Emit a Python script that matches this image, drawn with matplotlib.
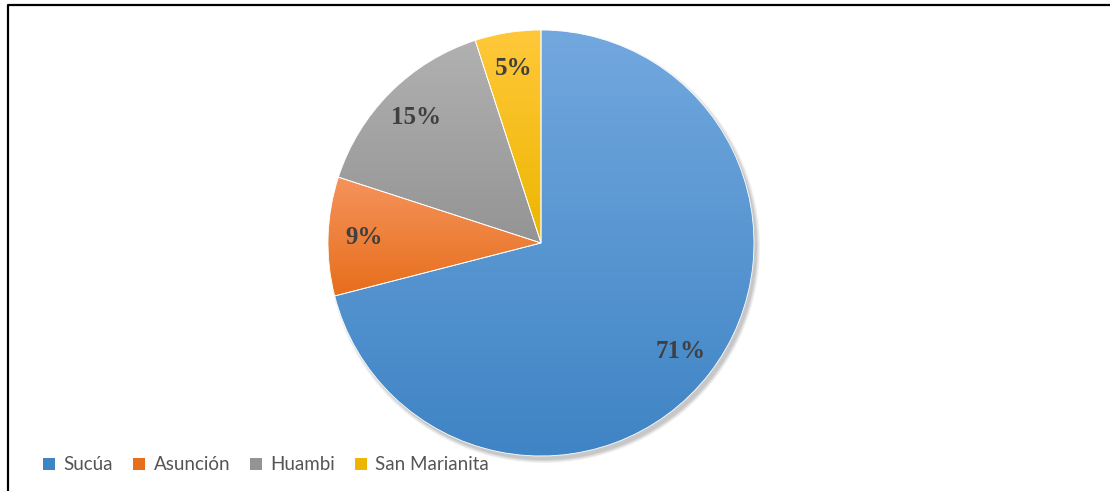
import matplotlib
matplotlib.use("Agg")
import matplotlib.pyplot as plt
import numpy as np
from matplotlib.colors import LinearSegmentedColormap
from matplotlib.patches import Patch, Circle

labels = ["Sucúa", "Asunción", "Huambi", "San Marianita"]
shares = [71, 9, 15, 5]
pct_text = ["71%", "9%", "15%", "5%"]
tops = ["#72A8DE", "#F5935C", "#B1B1B1", "#FFC83A"]
bottoms = ["#3F84C5", "#E76E1B", "#949494", "#EDB600"]

W, H = 1115, 491
fig = plt.figure(figsize=(W / 100, H / 100), dpi=100)
ax = fig.add_axes([0, 0, 1, 1])
ax.set_xlim(0, W)
ax.set_ylim(0, H)
ax.set_aspect("equal")
ax.axis("off")

cx, cy, r = 541, H - 243, 213

# soft shadow
for i, a in enumerate([0.05, 0.05, 0.06, 0.07]):
    ax.add_patch(Circle((cx + 3, cy - 4), r + 3 - i, color="black", alpha=a,
                        lw=0, zorder=1))

wedges, _ = ax.pie(shares, startangle=90, counterclock=False,
                   center=(cx, cy), radius=r, colors=bottoms,
                   wedgeprops=dict(linewidth=0.6, edgecolor="white"),
                   frame=True)
ax.axis("off")

grad = np.linspace(1, 0, 256).reshape(-1, 1)
for w, c0, c1 in zip(wedges, tops, bottoms):
    bb = w.get_path().get_extents()
    cmap = LinearSegmentedColormap.from_list("g", [c1, c0])
    im = ax.imshow(grad, cmap=cmap, extent=(bb.x0, bb.x1, bb.y0, bb.y1),
                   aspect="auto", zorder=2, interpolation="bilinear")
    im.set_clip_path(w)
    w.set_facecolor("none")
    w.set_zorder(3)

# percentage labels
theta = 90.0
for s, t in zip(shares, pct_text):
    mid = np.deg2rad(theta - s * 360 / 200)
    theta -= s * 360 / 100
    ax.text(cx + 0.83 * r * np.cos(mid), cy + 0.83 * r * np.sin(mid), t,
            ha="center", va="center", fontsize=18, fontweight="bold",
            family=["Liberation Serif", "DejaVu Serif"], color="#404040",
            zorder=5)

ax.set_xlim(0, W)
ax.set_ylim(0, H)

# border (top and left only)
ax.plot([8, 8, 1110], [0, H - 4.5, H - 4.5], color="black", lw=1.6,
        solid_capstyle="butt", zorder=6)

handles = [Patch(facecolor=c, edgecolor="none") for c in bottoms]
fig.legend(handles, labels, loc="center left", bbox_to_anchor=(43 / W, 1 - 465 / H),
           ncol=4, frameon=False, prop=dict(family="Lato", size=13.5),
           labelcolor="#555555", handlelength=0.65, handleheight=0.65,
           handletextpad=0.45, columnspacing=1.05, borderaxespad=0,
           borderpad=0)

fig.savefig("out.png", dpi=100, facecolor="white")
